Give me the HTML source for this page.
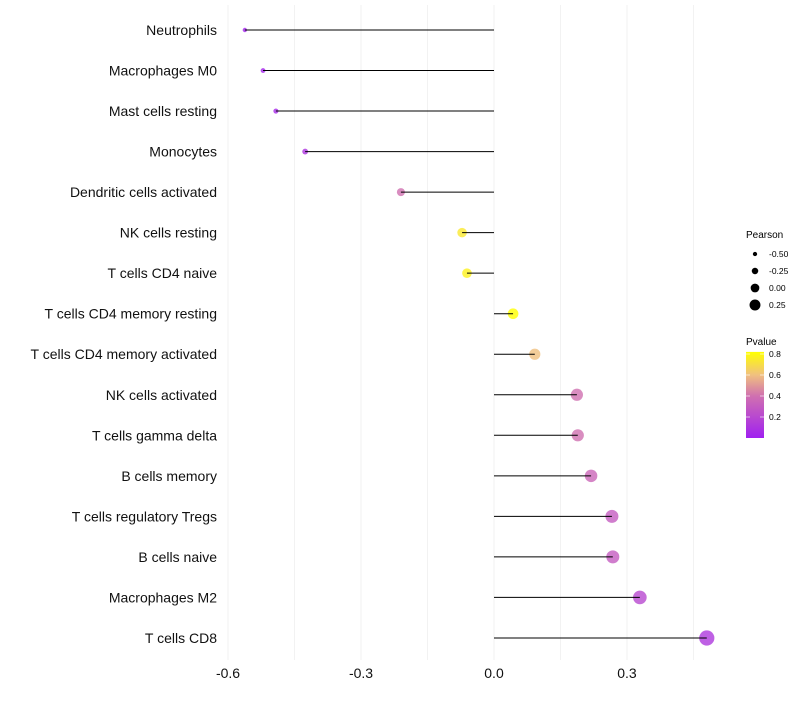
<!DOCTYPE html>
<html><head><meta charset="utf-8"><style>body{margin:0;background:#fff}svg{font-family:"Liberation Sans",sans-serif}</style></head>
<body>
<svg id="c" width="800" height="700"></svg>
<script>
const categories=["Neutrophils","Macrophages M0","Mast cells resting","Monocytes","Dendritic cells activated","NK cells resting","T cells CD4 naive","T cells CD4 memory resting","T cells CD4 memory activated","NK cells activated","T cells gamma delta","B cells memory","T cells regulatory  Tregs ","B cells naive","Macrophages M2","T cells CD8"];
const pearson=[-0.562,-0.521,-0.492,-0.426,-0.210,-0.072,-0.061,0.043,0.092,0.187,0.189,0.219,0.266,0.268,0.329,0.480];
const pvalues=[0.02,0.03,0.05,0.1,0.4,0.74,0.77,0.82,0.6,0.4,0.4,0.35,0.3,0.3,0.2,0.12];
const xTicks=[-0.6,-0.3,0.0,0.3];
const xTickLabels=["-0.6","-0.3","0.0","0.3"];
const legendVals=[-0.5,-0.25,0,0.25];
const legendLabels=["-0.50","-0.25","0.00","0.25"];
const pTicks=[0.2,0.4,0.6,0.8];

const NS="http://www.w3.org/2000/svg",svg=document.getElementById('c');
function el(t,a,p){const e=document.createElementNS(NS,t);for(const k in a)e.setAttribute(k,a[k]);(p||svg).appendChild(e);return e;}
const x=v=>494+v*443.3;
const y=i=>30+i*40.53;
const r=v=>2+(v+0.6)*5.2;
const stops=[[0,[160,32,240]],[0.4,[208,112,176]],[0.6,[240,192,128]],[0.82,[255,255,0]]];
function col(p){for(let i=1;i<stops.length;i++){if(p<=stops[i][0]||i==stops.length-1){const a=stops[i-1],b=stops[i];let t=Math.max(0,Math.min(1,(p-a[0])/(b[0]-a[0])));return 'rgb('+a[1].map((c,j)=>Math.round(c+(b[1][j]-c)*t)).join(',')+')';}}}
for(let g=-0.6;g<=0.46;g+=0.15){const l=el('line',{x1:x(g),x2:x(g),y1:5,y2:660,stroke:'#f2f2f2','stroke-width':1});}
categories.forEach((c,i)=>{
 const t=el('text',{x:217,y:y(i)+5,'text-anchor':'end','font-size':14,fill:'#111'});t.textContent=c;
 
 const d=el('circle',{cx:x(pearson[i]),cy:y(i),r:r(pearson[i]),fill:col(pvalues[i]),'fill-opacity':0.8});
 
 const l=el('line',{x1:x(0),x2:x(pearson[i]),y1:y(i),y2:y(i),stroke:'#000','stroke-width':1});
 
});
xTicks.forEach((v,i)=>{const t=el('text',{x:x(v),y:678,'text-anchor':'middle','font-size':14,fill:'#111'});t.textContent=xTickLabels[i];
 });
let tt=el('text',{x:746,y:238,'font-size':10});tt.textContent='Pearson';

legendVals.forEach((v,i)=>{const cy=254+i*17;const d=el('circle',{cx:755,cy:cy,r:r(v)*0.85,fill:'#000'});
 
 const t=el('text',{x:769,y:cy+3,'font-size':8.5});t.textContent=legendLabels[i];
 });
tt=el('text',{x:746,y:345,'font-size':10});tt.textContent='Pvalue';

const defs=el('defs',{});const lg=el('linearGradient',{id:'g',x1:0,y1:1,x2:0,y2:0},defs);
stops.forEach(s=>el('stop',{offset:s[0]/0.82,'stop-color':'rgb('+s[1].join(',')+')'},lg));
const py=p=>438-p*105;
const bar=el('rect',{x:746,y:py(0.82),width:18,height:105*0.82,fill:'url(#g)'});

pTicks.forEach(p=>{const t=el('text',{x:769,y:py(p)+3,'font-size':8.5});t.textContent=String(p);
 
 el('line',{x1:746,x2:750,y1:py(p),y2:py(p),stroke:'#fff','stroke-opacity':0.6});el('line',{x1:760,x2:764,y1:py(p),y2:py(p),stroke:'#fff','stroke-opacity':0.6});});
</script>
</body></html>
